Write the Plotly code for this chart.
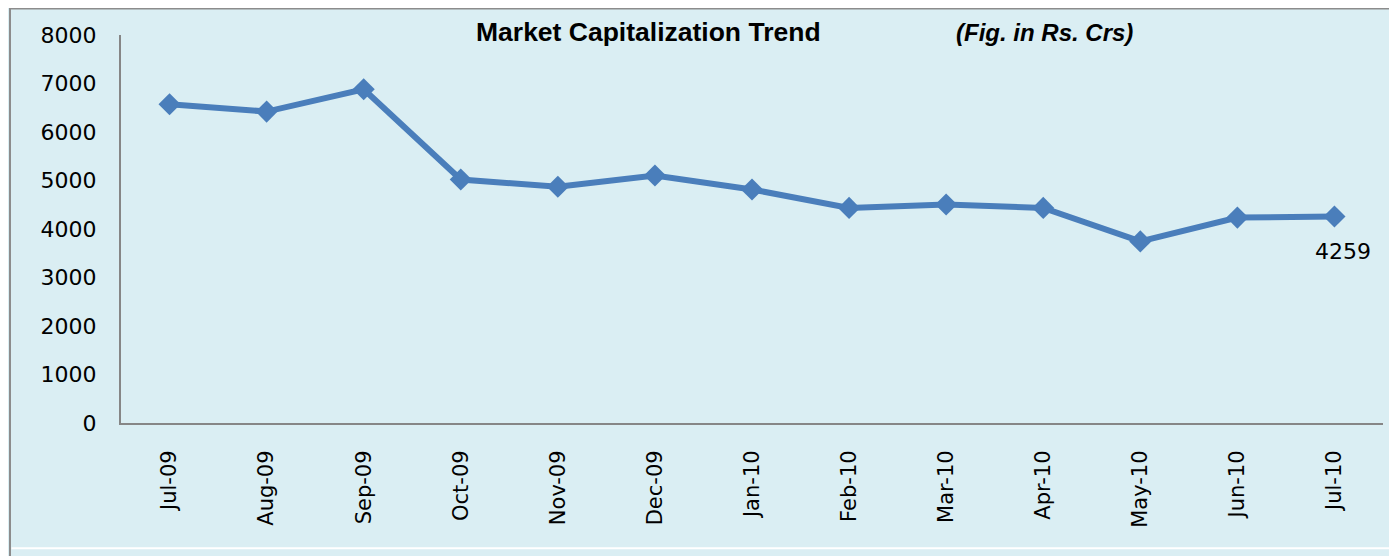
import plotly.graph_objects as go

months = ["Jul-09", "Aug-09", "Sep-09", "Oct-09", "Nov-09", "Dec-09", "Jan-10",
          "Feb-10", "Mar-10", "Apr-10", "May-10", "Jun-10", "Jul-10"]
market_cap = [6572, 6421, 6882, 5021, 4870, 5103, 4814, 4435, 4504, 4435, 3744, 4235, 4259]
y_ticks = [0, 1000, 2000, 3000, 4000, 5000, 6000, 7000, 8000]

OFF = 8  # page body margin
W, H = 1397 - OFF, 556 - OFF
L, R, T, B = 113, 14, 27, 133
pw, ph = W - L - R, H - T - B

def px_x(x):  # x in reference page pixels -> paper
    return (x - OFF - L) / pw

def px_y(y):
    return (H - B - (y - OFF)) / ph

BG = "#DAEEF3"
LINE = "#4A7EBB"

fig = go.Figure()
fig.add_trace(go.Scatter(
    x=months, y=market_cap, mode="lines+markers",
    line=dict(color=LINE, width=6),
    marker=dict(symbol="diamond", size=17, color=LINE),
    showlegend=False, hoverinfo="x+y",
))

fig.add_annotation(x=months[-1], y=market_cap[-1], text=str(market_cap[-1]),
                   showarrow=False, xshift=9, yshift=-35,
                   font=dict(family="DejaVu Sans", size=22, color="black"))

fig.add_annotation(x=px_x(648), y=px_y(32), xref="paper", yref="paper",
                   text="<b>Market Capitalization Trend</b>", showarrow=False,
                   xanchor="center", yanchor="middle",
                   font=dict(family="Liberation Sans", size=26.5, color="black"))
fig.add_annotation(x=px_x(1044), y=px_y(32), xref="paper", yref="paper",
                   text="<b><i>(Fig. in Rs. Crs)</i></b>", showarrow=False,
                   xanchor="center", yanchor="middle",
                   font=dict(family="Liberation Sans", size=24, color="black"))

shapes = [
    # gray border of the chart box
    dict(type="line", xref="paper", yref="paper", x0=px_x(10), x1=px_x(10),
         y0=px_y(H + OFF + 5), y1=px_y(OFF), line=dict(color="#8C8C8C", width=2), layer="below"),
    dict(type="line", xref="paper", yref="paper", x0=px_x(9), x1=px_x(W + OFF + 5),
         y0=px_y(OFF + 0.5), y1=px_y(OFF + 0.5), line=dict(color="#8C8C8C", width=2), layer="below"),
    # white separator near bottom
    dict(type="line", xref="paper", yref="paper", x0=px_x(11.5), x1=px_x(W + OFF + 5),
         y0=px_y(548.3), y1=px_y(548.3), line=dict(color="white", width=2), layer="below"),
]

fig.update_layout(
    width=W, height=H,
    margin=dict(l=L, r=R, t=T, b=B, pad=0),
    paper_bgcolor=BG, plot_bgcolor=BG,
    shapes=shapes,
    xaxis=dict(
        type="category", categoryorder="array", categoryarray=months,
        range=[-0.5, len(months) - 0.5],
        showgrid=False, zeroline=False,
        showline=True, linecolor="#868686", linewidth=2,
        ticks="", tickangle=-90, ticklabelstandoff=17,
        tickfont=dict(family="DejaVu Sans", size=21, color="black"),
    ),
    yaxis=dict(
        range=[0, 8000], tickvals=y_ticks, ticktext=[str(v) for v in y_ticks],
        showgrid=False, zeroline=False,
        showline=True, linecolor="#868686", linewidth=2,
        ticks="", ticklabelstandoff=18,
        tickfont=dict(family="DejaVu Sans", size=22, color="black"),
    ),
)

fig.write_html("out.html")
